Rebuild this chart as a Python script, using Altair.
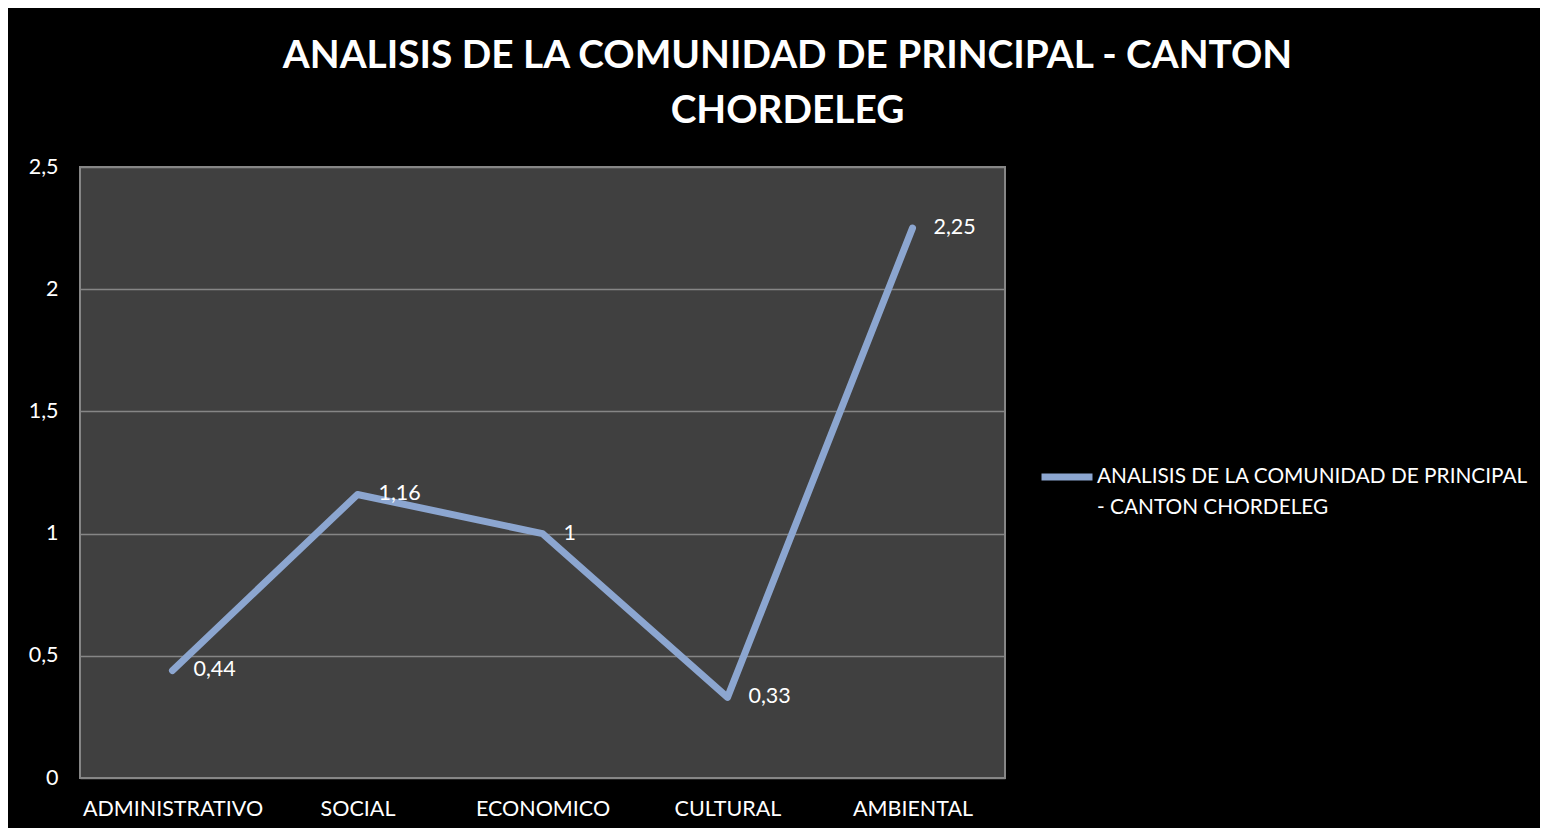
import altair as alt
import pandas as pd

categories = ["ADMINISTRATIVO", "SOCIAL", "ECONOMICO", "CULTURAL", "AMBIENTAL"]
values = [0.44, 1.16, 1.0, 0.33, 2.25]
series_name = "ANALISIS DE LA COMUNIDAD DE PRINCIPAL - CANTON CHORDELEG"
title_lines = ["ANALISIS DE LA COMUNIDAD DE PRINCIPAL - CANTON", "CHORDELEG"]
legend_lines = ["ANALISIS DE LA COMUNIDAD DE PRINCIPAL", "- CANTON CHORDELEG"]
y_ticks = [0, 0.5, 1, 1.5, 2, 2.5]

df = pd.DataFrame({"cat": categories, "value": values, "series": series_name})

FONT = "Lato"
FS = 21.5
LINE_COLOR = "#8CA6D0"

x = alt.X("cat:N", sort=categories, title=None,
          scale=alt.Scale(padding=0.5),
          axis=alt.Axis(labelAngle=0, labelFontSize=FS, labelColor="white", labelFont=FONT,
                        labelLimit=0, ticks=False, domain=False, labelPadding=20, grid=False))
y = alt.Y("value:Q", title=None,
          scale=alt.Scale(domain=[0, 2.5], nice=False),
          axis=alt.Axis(values=y_ticks, labelFontSize=FS, labelColor="white", labelFont=FONT,
                        ticks=False, domain=False, labelPadding=22,
                        labelExpr="replace(format(datum.value, '~g'), '.', ',')",
                        grid=True, gridColor="#868686", gridWidth=1.5))

legend_expr = "[" + ", ".join("'" + s + "'" for s in legend_lines) + "]"

line = alt.Chart(df).mark_line(strokeWidth=7, strokeCap="round", strokeJoin="round").encode(
    x=x, y=y,
    color=alt.Color("series:N", scale=alt.Scale(range=[LINE_COLOR]),
                    legend=alt.Legend(title=None, orient="none", legendX=958, legendY=281,
                                      symbolType="stroke", symbolStrokeWidth=7, symbolSize=2600,
                                      labelFontSize=20.8, labelColor="white", labelFont=FONT,
                                      labelLimit=0, labelOffset=1, labelExpr=legend_expr,
                                      labelBaseline="middle"))
)

labels = alt.Chart(df).transform_calculate(
    lab="replace(format(datum.value, '~g'), '.', ',')"
).mark_text(align="left", baseline="middle", dx=21, fontSize=FS, color="white", font=FONT).encode(
    x=alt.X("cat:N", sort=categories), y="value:Q", text="lab:N"
)

chart = (line + labels).properties(
    width=925, height=611,
    background="black",
    autosize=alt.AutoSizeParams(type="none"),
    padding={"left": 72, "top": 159, "right": 535, "bottom": 50},
    title=alt.Title(title_lines, fontSize=38.8, font=FONT, fontWeight="bold", color="white",
                    anchor="middle", frame="group", dx=245, offset=25, lineHeight=55),
).configure(
    view=alt.ViewConfig(fill="#404040", stroke="#868686", strokeWidth=2),
    style={"guide-label": {"lineHeight": 31}},
)

chart.save("out.html", embed_options={"renderer": "svg", "actions": False})
